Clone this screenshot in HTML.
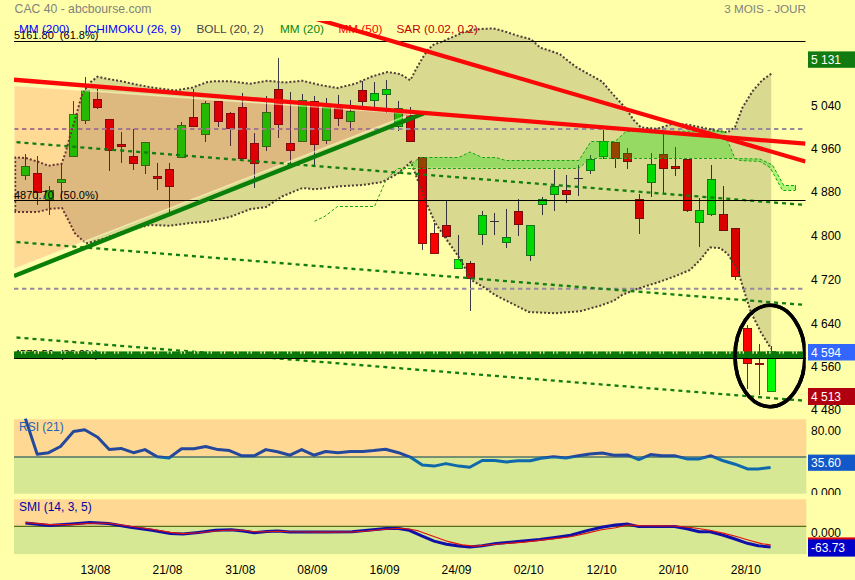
<!DOCTYPE html>
<html lang="fr"><head><meta charset="utf-8"><title>CAC 40 - abcbourse.com</title>
<style>html,body{margin:0;padding:0;background:#FFFFAA;}body{width:855px;height:580px;overflow:hidden;}svg{display:block;font-family:"Liberation Sans",sans-serif;font-size:12px;}</style></head><body>
<svg width="855" height="580" viewBox="0 0 855 580">
<defs>
<clipPath id="cm"><rect x="14" y="21" width="791.5" height="392"/></clipPath>
<clipPath id="cr"><rect x="806" y="419" width="49" height="76"/></clipPath>
</defs>
<rect width="855" height="580" fill="#FFFFAA"/>
<g clip-path="url(#cm)">
<g shape-rendering="crispEdges">
<line x1="25.5" y1="154.0" x2="25.5" y2="179.5" stroke="#3E3A48" stroke-width="1"/>
<rect x="21.5" y="166.5" width="8" height="9" fill="#00FF00" stroke="#1E8A1E" stroke-width="1"/>
<line x1="37.5" y1="156.0" x2="37.5" y2="204.5" stroke="#3E3A48" stroke-width="1"/>
<rect x="33.5" y="173.5" width="8" height="19" fill="#FF0000" stroke="#8A1010" stroke-width="1"/>
<line x1="49.5" y1="186.2" x2="49.5" y2="214.5" stroke="#3E3A48" stroke-width="1"/>
<rect x="45.5" y="190.5" width="8" height="9" fill="#00FF00" stroke="#1E8A1E" stroke-width="1"/>
<line x1="61.5" y1="163.8" x2="61.5" y2="200.0" stroke="#3E3A48" stroke-width="1"/>
<rect x="57.5" y="179.5" width="8" height="3" fill="#00FF00" stroke="#1E8A1E" stroke-width="1"/>
<line x1="73.5" y1="101.2" x2="73.5" y2="157.0" stroke="#3E3A48" stroke-width="1"/>
<rect x="69.5" y="114.5" width="8" height="42" fill="#00FF00" stroke="#1E8A1E" stroke-width="1"/>
<line x1="85.5" y1="77.0" x2="85.5" y2="123.8" stroke="#3E3A48" stroke-width="1"/>
<rect x="81.5" y="90.5" width="8" height="30" fill="#00FF00" stroke="#1E8A1E" stroke-width="1"/>
<line x1="97.5" y1="88.8" x2="97.5" y2="108.8" stroke="#3E3A48" stroke-width="1"/>
<rect x="93.5" y="99.5" width="8" height="8" fill="#FF0000" stroke="#8A1010" stroke-width="1"/>
<line x1="109.5" y1="119.2" x2="109.5" y2="171.2" stroke="#3E3A48" stroke-width="1"/>
<rect x="105.5" y="119.5" width="8" height="31" fill="#FF0000" stroke="#8A1010" stroke-width="1"/>
<line x1="121.5" y1="132.0" x2="121.5" y2="162.5" stroke="#3E3A48" stroke-width="1"/>
<rect x="117.5" y="144.5" width="8" height="2" fill="#FF0000" stroke="#8A1010" stroke-width="1"/>
<line x1="133.5" y1="128.8" x2="133.5" y2="170.2" stroke="#3E3A48" stroke-width="1"/>
<rect x="129.5" y="156.5" width="8" height="7" fill="#FF0000" stroke="#8A1010" stroke-width="1"/>
<line x1="145.5" y1="142.0" x2="145.5" y2="173.5" stroke="#3E3A48" stroke-width="1"/>
<rect x="141.5" y="142.5" width="8" height="23" fill="#00FF00" stroke="#1E8A1E" stroke-width="1"/>
<line x1="157.5" y1="163.0" x2="157.5" y2="189.5" stroke="#3E3A48" stroke-width="1"/>
<rect x="153.5" y="176.5" width="8" height="2" fill="#FF0000" stroke="#8A1010" stroke-width="1"/>
<line x1="169.5" y1="163.0" x2="169.5" y2="216.2" stroke="#3E3A48" stroke-width="1"/>
<rect x="165.5" y="169.5" width="8" height="17" fill="#FF0000" stroke="#8A1010" stroke-width="1"/>
<line x1="181.5" y1="122.0" x2="181.5" y2="157.5" stroke="#3E3A48" stroke-width="1"/>
<rect x="177.5" y="125.5" width="8" height="32" fill="#00FF00" stroke="#1E8A1E" stroke-width="1"/>
<line x1="193.5" y1="88.8" x2="193.5" y2="125.5" stroke="#3E3A48" stroke-width="1"/>
<rect x="189.5" y="117.5" width="8" height="9" fill="#FF0000" stroke="#8A1010" stroke-width="1"/>
<line x1="205.5" y1="101.2" x2="205.5" y2="142.0" stroke="#3E3A48" stroke-width="1"/>
<rect x="201.5" y="103.5" width="8" height="31" fill="#00FF00" stroke="#1E8A1E" stroke-width="1"/>
<line x1="218.5" y1="101.2" x2="218.5" y2="127.0" stroke="#3E3A48" stroke-width="1"/>
<rect x="214.5" y="101.5" width="8" height="20" fill="#FF0000" stroke="#8A1010" stroke-width="1"/>
<line x1="230.5" y1="112.0" x2="230.5" y2="145.5" stroke="#3E3A48" stroke-width="1"/>
<rect x="226.5" y="113.5" width="8" height="15" fill="#FF0000" stroke="#8A1010" stroke-width="1"/>
<line x1="242.5" y1="93.0" x2="242.5" y2="158.2" stroke="#3E3A48" stroke-width="1"/>
<rect x="238.5" y="107.5" width="8" height="51" fill="#FF0000" stroke="#8A1010" stroke-width="1"/>
<line x1="254.5" y1="133.0" x2="254.5" y2="187.5" stroke="#3E3A48" stroke-width="1"/>
<rect x="250.5" y="143.5" width="8" height="20" fill="#FF0000" stroke="#8A1010" stroke-width="1"/>
<line x1="266.5" y1="95.8" x2="266.5" y2="151.2" stroke="#3E3A48" stroke-width="1"/>
<rect x="262.5" y="112.5" width="8" height="34" fill="#00FF00" stroke="#1E8A1E" stroke-width="1"/>
<line x1="278.5" y1="58.0" x2="278.5" y2="138.2" stroke="#3E3A48" stroke-width="1"/>
<rect x="274.5" y="89.5" width="8" height="35" fill="#FF0000" stroke="#8A1010" stroke-width="1"/>
<line x1="290.5" y1="92.0" x2="290.5" y2="165.5" stroke="#3E3A48" stroke-width="1"/>
<rect x="286.5" y="143.5" width="8" height="7" fill="#FF0000" stroke="#8A1010" stroke-width="1"/>
<line x1="302.5" y1="93.8" x2="302.5" y2="141.2" stroke="#3E3A48" stroke-width="1"/>
<rect x="298.5" y="100.5" width="8" height="41" fill="#00FF00" stroke="#1E8A1E" stroke-width="1"/>
<line x1="314.5" y1="95.8" x2="314.5" y2="165.0" stroke="#3E3A48" stroke-width="1"/>
<rect x="310.5" y="101.5" width="8" height="43" fill="#FF0000" stroke="#8A1010" stroke-width="1"/>
<line x1="326.5" y1="97.5" x2="326.5" y2="143.8" stroke="#3E3A48" stroke-width="1"/>
<rect x="322.5" y="107.5" width="8" height="33" fill="#00FF00" stroke="#1E8A1E" stroke-width="1"/>
<line x1="338.5" y1="95.0" x2="338.5" y2="125.5" stroke="#3E3A48" stroke-width="1"/>
<rect x="334.5" y="108.5" width="8" height="10" fill="#FF0000" stroke="#8A1010" stroke-width="1"/>
<line x1="350.5" y1="100.0" x2="350.5" y2="130.5" stroke="#3E3A48" stroke-width="1"/>
<rect x="346.5" y="111.5" width="8" height="10" fill="#00FF00" stroke="#1E8A1E" stroke-width="1"/>
<line x1="362.5" y1="81.2" x2="362.5" y2="110.0" stroke="#3E3A48" stroke-width="1"/>
<rect x="358.5" y="90.5" width="8" height="11" fill="#FF0000" stroke="#8A1010" stroke-width="1"/>
<line x1="374.5" y1="82.0" x2="374.5" y2="107.5" stroke="#3E3A48" stroke-width="1"/>
<rect x="370.5" y="93.5" width="8" height="7" fill="#00FF00" stroke="#1E8A1E" stroke-width="1"/>
<line x1="386.5" y1="80.0" x2="386.5" y2="112.5" stroke="#3E3A48" stroke-width="1"/>
<rect x="382.5" y="89.5" width="8" height="5" fill="#00FF00" stroke="#1E8A1E" stroke-width="1"/>
<line x1="398.5" y1="101.2" x2="398.5" y2="131.2" stroke="#3E3A48" stroke-width="1"/>
<rect x="394.5" y="108.5" width="8" height="18" fill="#00FF00" stroke="#1E8A1E" stroke-width="1"/>
<line x1="410.5" y1="107.0" x2="410.5" y2="141.2" stroke="#3E3A48" stroke-width="1"/>
<rect x="406.5" y="115.5" width="8" height="26" fill="#FF0000" stroke="#8A1010" stroke-width="1"/>
<line x1="422.5" y1="157.0" x2="422.5" y2="249.5" stroke="#3E3A48" stroke-width="1"/>
<rect x="418.5" y="157.5" width="8" height="86" fill="#FF0000" stroke="#8A1010" stroke-width="1"/>
<line x1="434.5" y1="223.0" x2="434.5" y2="253.2" stroke="#3E3A48" stroke-width="1"/>
<rect x="430.5" y="233.5" width="8" height="20" fill="#FF0000" stroke="#8A1010" stroke-width="1"/>
<line x1="446.5" y1="200.8" x2="446.5" y2="237.5" stroke="#3E3A48" stroke-width="1"/>
<rect x="442.5" y="225.5" width="8" height="11" fill="#FF0000" stroke="#8A1010" stroke-width="1"/>
<line x1="458.5" y1="235.0" x2="458.5" y2="268.0" stroke="#3E3A48" stroke-width="1"/>
<rect x="454.5" y="259.5" width="8" height="9" fill="#00FF00" stroke="#1E8A1E" stroke-width="1"/>
<line x1="470.5" y1="260.8" x2="470.5" y2="310.5" stroke="#3E3A48" stroke-width="1"/>
<rect x="466.5" y="263.5" width="8" height="15" fill="#FF0000" stroke="#8A1010" stroke-width="1"/>
<line x1="482.5" y1="210.8" x2="482.5" y2="244.5" stroke="#3E3A48" stroke-width="1"/>
<rect x="478.5" y="215.5" width="8" height="19" fill="#00FF00" stroke="#1E8A1E" stroke-width="1"/>
<line x1="494.5" y1="213.0" x2="494.5" y2="234.5" stroke="#3E3A48" stroke-width="1"/>
<line x1="490" y1="221.5" x2="499" y2="221.5" stroke="#3E3A48" stroke-width="1"/>
<line x1="506.5" y1="208.8" x2="506.5" y2="247.5" stroke="#3E3A48" stroke-width="1"/>
<rect x="502.5" y="237.5" width="8" height="5" fill="#00FF00" stroke="#1E8A1E" stroke-width="1"/>
<line x1="518.5" y1="198.8" x2="518.5" y2="235.5" stroke="#3E3A48" stroke-width="1"/>
<rect x="514.5" y="211.5" width="8" height="13" fill="#FF0000" stroke="#8A1010" stroke-width="1"/>
<line x1="530.5" y1="225.0" x2="530.5" y2="261.2" stroke="#3E3A48" stroke-width="1"/>
<rect x="526.5" y="225.5" width="8" height="30" fill="#00FF00" stroke="#1E8A1E" stroke-width="1"/>
<line x1="542.5" y1="197.0" x2="542.5" y2="214.5" stroke="#3E3A48" stroke-width="1"/>
<rect x="538.5" y="199.5" width="8" height="5" fill="#00FF00" stroke="#1E8A1E" stroke-width="1"/>
<line x1="554.5" y1="170.0" x2="554.5" y2="210.5" stroke="#3E3A48" stroke-width="1"/>
<rect x="550.5" y="186.5" width="8" height="8" fill="#00FF00" stroke="#1E8A1E" stroke-width="1"/>
<line x1="566.5" y1="174.5" x2="566.5" y2="202.5" stroke="#3E3A48" stroke-width="1"/>
<rect x="562.5" y="190.5" width="8" height="4" fill="#FF0000" stroke="#8A1010" stroke-width="1"/>
<line x1="578.5" y1="164.5" x2="578.5" y2="195.8" stroke="#3E3A48" stroke-width="1"/>
<line x1="574" y1="178.5" x2="583" y2="178.5" stroke="#3E3A48" stroke-width="1"/>
<line x1="590.5" y1="154.5" x2="590.5" y2="173.8" stroke="#3E3A48" stroke-width="1"/>
<rect x="586.5" y="159.5" width="8" height="11" fill="#00FF00" stroke="#1E8A1E" stroke-width="1"/>
<line x1="603.5" y1="130.0" x2="603.5" y2="159.2" stroke="#3E3A48" stroke-width="1"/>
<rect x="599.5" y="141.5" width="8" height="15" fill="#00FF00" stroke="#1E8A1E" stroke-width="1"/>
<line x1="615.5" y1="142.0" x2="615.5" y2="167.5" stroke="#3E3A48" stroke-width="1"/>
<rect x="611.5" y="142.5" width="8" height="16" fill="#FF0000" stroke="#8A1010" stroke-width="1"/>
<line x1="627.5" y1="147.5" x2="627.5" y2="168.8" stroke="#3E3A48" stroke-width="1"/>
<rect x="623.5" y="153.5" width="8" height="8" fill="#FF0000" stroke="#8A1010" stroke-width="1"/>
<line x1="639.5" y1="193.8" x2="639.5" y2="233.8" stroke="#3E3A48" stroke-width="1"/>
<rect x="635.5" y="199.5" width="8" height="19" fill="#FF0000" stroke="#8A1010" stroke-width="1"/>
<line x1="651.5" y1="153.0" x2="651.5" y2="197.0" stroke="#3E3A48" stroke-width="1"/>
<rect x="647.5" y="164.5" width="8" height="18" fill="#00FF00" stroke="#1E8A1E" stroke-width="1"/>
<line x1="663.5" y1="129.5" x2="663.5" y2="193.8" stroke="#3E3A48" stroke-width="1"/>
<rect x="659.5" y="154.5" width="8" height="14" fill="#FF0000" stroke="#8A1010" stroke-width="1"/>
<line x1="675.5" y1="147.0" x2="675.5" y2="175.8" stroke="#3E3A48" stroke-width="1"/>
<rect x="671.5" y="166.5" width="8" height="2" fill="#FF0000" stroke="#8A1010" stroke-width="1"/>
<line x1="687.5" y1="158.8" x2="687.5" y2="211.8" stroke="#3E3A48" stroke-width="1"/>
<rect x="683.5" y="159.5" width="8" height="51" fill="#FF0000" stroke="#8A1010" stroke-width="1"/>
<line x1="699.5" y1="197.5" x2="699.5" y2="246.8" stroke="#3E3A48" stroke-width="1"/>
<rect x="695.5" y="210.5" width="8" height="12" fill="#00FF00" stroke="#1E8A1E" stroke-width="1"/>
<line x1="711.5" y1="165.0" x2="711.5" y2="215.5" stroke="#3E3A48" stroke-width="1"/>
<rect x="707.5" y="179.5" width="8" height="35" fill="#00FF00" stroke="#1E8A1E" stroke-width="1"/>
<line x1="723.5" y1="185.8" x2="723.5" y2="230.5" stroke="#3E3A48" stroke-width="1"/>
<rect x="719.5" y="214.5" width="8" height="16" fill="#FF0000" stroke="#8A1010" stroke-width="1"/>
<line x1="735.5" y1="228.0" x2="735.5" y2="279.5" stroke="#3E3A48" stroke-width="1"/>
<rect x="731.5" y="228.5" width="8" height="48" fill="#FF0000" stroke="#8A1010" stroke-width="1"/>
<line x1="747.5" y1="325.0" x2="747.5" y2="389.2" stroke="#3E3A48" stroke-width="1"/>
<rect x="743.5" y="328.5" width="8" height="35" fill="#FF0000" stroke="#8A1010" stroke-width="1"/>
<line x1="759.5" y1="343.8" x2="759.5" y2="394.5" stroke="#3E3A48" stroke-width="1"/>
<rect x="755.5" y="363.5" width="8" height="1" fill="#FF0000" stroke="#8A1010" stroke-width="1"/>
<line x1="771.5" y1="345.5" x2="771.5" y2="391.2" stroke="#3E3A48" stroke-width="1"/>
<rect x="767.5" y="351.5" width="8" height="40" fill="#00FF00" stroke="#1E8A1E" stroke-width="1"/>
</g>
<polygon points="14.00,157.40 25.70,158.00 37.50,161.50 48.50,165.70 61.50,163.80 65.40,153.00 70.10,135.80 75.80,116.90 81.50,96.00 84.40,90.30 91.00,81.80 97.60,76.70 106.20,78.60 121.30,81.20 136.50,84.60 155.00,88.00 175.00,90.50 192.50,87.50 207.50,82.00 215.00,81.25 230.00,81.25 250.00,83.75 267.50,80.75 285.00,82.50 302.50,80.75 320.00,85.00 337.50,88.00 355.00,83.75 372.50,76.25 387.50,72.00 400.00,74.00 410.30,80.20 416.00,69.30 422.50,58.00 428.00,49.60 433.70,44.60 443.00,41.20 452.40,37.10 463.70,32.20 475.00,29.60 484.30,28.70 493.60,28.50 504.90,31.50 516.00,35.20 531.00,39.30 540.50,47.80 549.80,50.60 560.00,54.30 575.00,66.25 592.50,76.25 602.00,81.50 612.50,93.75 625.00,107.50 633.75,120.00 641.00,127.50 657.50,128.75 672.50,123.75 687.50,124.50 707.50,128.75 720.00,131.25 727.50,132.50 735.00,127.00 742.50,107.50 752.50,91.25 762.50,80.00 771.25,73.75 771.25,349.00 761.00,332.50 751.00,312.50 745.00,293.75 740.00,277.50 735.00,265.00 727.50,253.75 720.00,248.00 710.00,247.50 700.00,260.00 690.00,270.00 675.00,276.25 657.50,282.50 637.50,288.75 622.50,294.75 613.75,300.75 600.00,305.75 580.00,311.25 555.00,313.25 528.75,312.00 512.50,303.75 495.00,295.00 485.00,288.00 473.00,281.00 469.00,275.00 457.50,255.00 446.00,238.75 435.00,222.50 425.00,200.00 411.00,162.00 397.50,173.75 382.50,182.00 362.50,185.00 340.00,186.25 315.00,189.25 302.50,188.00 282.50,196.25 266.00,207.00 250.00,209.25 230.00,217.00 207.00,221.70 190.00,223.00 170.00,225.75 150.00,225.00 125.00,231.00 100.00,240.00 86.00,243.50 75.00,233.50 67.50,218.50 62.00,208.00 50.00,208.75 37.50,212.00 14.00,212.00" fill="#000" fill-opacity="0.15"/>
<line x1="14" y1="128.9" x2="803" y2="128.9" stroke="#958A9C" stroke-width="2" stroke-dasharray="4.4 3.6"/>
<line x1="14" y1="288.8" x2="803" y2="288.8" stroke="#958A9C" stroke-width="2" stroke-dasharray="4.4 3.6"/>
<polyline points="14.00,157.40 25.70,158.00 37.50,161.50 48.50,165.70 61.50,163.80 65.40,153.00 70.10,135.80 75.80,116.90 81.50,96.00 84.40,90.30 91.00,81.80 97.60,76.70 106.20,78.60 121.30,81.20 136.50,84.60 155.00,88.00 175.00,90.50 192.50,87.50 207.50,82.00 215.00,81.25 230.00,81.25 250.00,83.75 267.50,80.75 285.00,82.50 302.50,80.75 320.00,85.00 337.50,88.00 355.00,83.75 372.50,76.25 387.50,72.00 400.00,74.00 410.30,80.20 416.00,69.30 422.50,58.00 428.00,49.60 433.70,44.60 443.00,41.20 452.40,37.10 463.70,32.20 475.00,29.60 484.30,28.70 493.60,28.50 504.90,31.50 516.00,35.20 531.00,39.30 540.50,47.80 549.80,50.60 560.00,54.30 575.00,66.25 592.50,76.25 602.00,81.50 612.50,93.75 625.00,107.50 633.75,120.00 641.00,127.50 657.50,128.75 672.50,123.75 687.50,124.50 707.50,128.75 720.00,131.25 727.50,132.50 735.00,127.00 742.50,107.50 752.50,91.25 762.50,80.00 771.25,73.75" fill="none" stroke="#4F3C36" stroke-width="2" stroke-dasharray="2 2"/>
<polyline points="14.00,212.00 37.50,212.00 50.00,208.75 62.00,208.00 67.50,218.50 75.00,233.50 86.00,243.50 100.00,240.00 125.00,231.00 150.00,225.00 170.00,225.75 190.00,223.00 207.00,221.70 230.00,217.00 250.00,209.25 266.00,207.00 282.50,196.25 302.50,188.00 315.00,189.25 340.00,186.25 362.50,185.00 382.50,182.00 397.50,173.75 411.00,162.00 425.00,200.00 435.00,222.50 446.00,238.75 457.50,255.00 469.00,275.00 473.00,281.00 485.00,288.00 495.00,295.00 512.50,303.75 528.75,312.00 555.00,313.25 580.00,311.25 600.00,305.75 613.75,300.75 622.50,294.75 637.50,288.75 657.50,282.50 675.00,276.25 690.00,270.00 700.00,260.00 710.00,247.50 720.00,248.00 727.50,253.75 735.00,265.00 740.00,277.50 745.00,293.75 751.00,312.50 761.00,332.50 771.25,349.00" fill="none" stroke="#4F3C36" stroke-width="2" stroke-dasharray="2 2"/>
<line x1="15.2" y1="157" x2="15.2" y2="212" stroke="#4F3C36" stroke-width="2" stroke-dasharray="2 2"/>
<polygon points="408.00,167.50 412.50,163.00 420.00,157.50 458.75,157.50 470.00,152.00 482.50,157.50 496.00,157.50 506.00,160.50 578.75,160.50 591.00,141.50 615.00,141.50 626.00,131.50 722.00,131.00 724.00,132.00 735.00,158.50 760.00,159.00 772.50,165.00 783.75,185.50 795.50,185.50 795.50,190.00 782.50,190.00 770.00,167.50 760.00,161.25 740.00,160.50 735.00,158.00 590.00,158.00 578.75,168.00" fill="#00DC00" fill-opacity="0.31"/>
<polyline points="395.00,175.00 400.00,172.00 412.50,163.00 420.00,157.50 458.75,157.50 470.00,152.00 482.50,157.50 496.00,157.50 506.00,160.50 578.75,160.50 591.00,141.50 615.00,141.50 626.00,131.50 722.00,131.00 724.00,132.00 735.00,158.50 760.00,159.00 772.50,165.00 783.75,185.50 795.50,185.50" fill="none" stroke="#14A514" stroke-width="1" stroke-dasharray="3 2"/>
<polyline points="314.50,221.25 325.00,216.25 337.50,206.50 374.50,206.50 386.00,180.00 397.50,168.50 578.75,168.50 590.00,158.50 735.00,158.50 740.00,160.50 760.00,161.50 770.00,167.50 782.50,190.50 795.50,190.50" fill="none" stroke="#14A514" stroke-width="1" stroke-dasharray="3 2"/>
<line x1="795.5" y1="185" x2="795.5" y2="190" stroke="#18A018" stroke-width="1"/>
<polygon points="14.00,85.50 412.00,113.80 14.00,269.10" fill="#FF001E" fill-opacity="0.145"/>
<polygon points="14.00,85.50 412.00,113.80 14.00,269.10" fill="none" stroke="#FFFFC8" stroke-opacity="0.55" stroke-width="1.6" stroke-linejoin="round"/>
<line x1="16.5" y1="142.2" x2="805.5" y2="205" stroke="#137C13" stroke-width="2.3" stroke-dasharray="4 4"/>
<line x1="16.5" y1="242.0" x2="805.5" y2="305" stroke="#137C13" stroke-width="2.3" stroke-dasharray="4 4"/>
<line x1="16.5" y1="337.5" x2="805.5" y2="400.8" stroke="#137C13" stroke-width="2.3" stroke-dasharray="4 4"/>
<line x1="14" y1="41.5" x2="805.5" y2="41.5" stroke="#000" stroke-width="1" shape-rendering="crispEdges"/>
<line x1="14" y1="200.5" x2="805.5" y2="200.5" stroke="#000" stroke-width="1" shape-rendering="crispEdges"/>
<line x1="14" y1="358.5" x2="805.5" y2="358.5" stroke="#000" stroke-width="1" shape-rendering="crispEdges"/>
<line x1="14" y1="276" x2="424" y2="113.2" stroke="#0A800A" stroke-width="4.4"/>
<line x1="14" y1="79.75" x2="805.5" y2="143.7" stroke="#FA0808" stroke-width="4.3"/>
<line x1="300" y1="14.25" x2="805.5" y2="161.6" stroke="#FA0808" stroke-width="4.2"/>
<ellipse cx="770" cy="356" rx="35" ry="50.7" fill="none" stroke="#000" stroke-width="3.6"/>
</g>
<text x="14" y="39.2" font-size="11" fill="#000">5161.80 &#160;(61.8%)</text>
<text x="14" y="198.5" font-size="11" fill="#000">4870.70 &#160;(50.0%)</text>
<text x="14" y="357.6" font-size="11" fill="#000">4579.59 &#160;(38.2%)</text>
<rect x="14" y="351.4" width="791.5" height="6.7" fill="#0A770A"/>
<line x1="21" y1="352.5" x2="805.5" y2="352.5" stroke="#FFFFAA" stroke-width="2.4" stroke-dasharray="1.2 2.3 1.2 8.6"/>
<line x1="14" y1="358.5" x2="805.5" y2="358.5" stroke="#000" stroke-width="1" shape-rendering="crispEdges"/>
<g clip-path="url(#cm)"><ellipse cx="770" cy="356" rx="35" ry="50.7" fill="none" stroke="#000" stroke-width="3.6"/></g>
<text x="14.6" y="13" font-size="12.2" fill="#82827C">CAC 40 - abcbourse.com</text>
<text x="806" y="13" font-size="11.7" fill="#82827C" text-anchor="end">3 MOIS - JOUR</text>
<text x="19" y="32.8" font-size="11.8" fill="#0000FF">MM (200)</text>
<text x="84.5" y="32.8" font-size="11.8" fill="#0000FF">ICHIMOKU (26, 9)</text>
<text x="196.5" y="32.8" font-size="11.8" fill="#444444">BOLL (20, 2)</text>
<text x="280" y="32.8" font-size="11.8" fill="#0A860A">MM (20)</text>
<text x="338.5" y="32.8" font-size="11.8" fill="#FF0000">MM (50)</text>
<text x="396.5" y="32.8" font-size="11.8" fill="#C00000">SAR (0.02, 0.2)</text>
<text x="811" y="109.9" fill="#000">5 040</text>
<text x="811" y="153.4" fill="#000">4 960</text>
<text x="811" y="196.4" fill="#000">4 880</text>
<text x="811" y="240.1" fill="#000">4 800</text>
<text x="811" y="284.4" fill="#000">4 720</text>
<text x="811" y="328.09999999999997" fill="#000">4 640</text>
<text x="811" y="370.9" fill="#000">4 560</text>
<text x="811" y="414.4" fill="#000">4 480</text>
<rect x="808" y="51.4" width="47" height="16.4" fill="#117A11"/>
<text x="811" y="63.99999999999999" fill="#fff">5 131</text>
<rect x="808" y="344" width="47" height="16.5" fill="#3366FF"/>
<text x="811" y="356.65" fill="#fff">4 594</text>
<rect x="808" y="388" width="47" height="17" fill="#B00010"/>
<text x="811" y="400.9" fill="#fff">4 513</text>
<rect x="14" y="419.3" width="792.3" height="37.7" fill="#FFD993"/>
<rect x="14" y="457" width="792.3" height="36.7" fill="#D6E893"/>
<line x1="14" y1="457" x2="806.3" y2="457" stroke="#4F7468" stroke-width="1.3"/>
<clipPath id="ra"><rect x="0" y="410" width="855" height="47"/></clipPath><clipPath id="rb"><rect x="0" y="457" width="855" height="40"/></clipPath>
<polyline clip-path="url(#ra)" points="25.40,418.60 37.20,454.30 48.70,452.70 60.50,446.50 73.50,431.60 84.70,429.80 97.70,437.20 109.20,449.60 121.00,448.40 133.40,452.70 144.90,449.60 157.30,456.80 169.00,458.00 181.50,448.70 193.90,448.70 205.60,446.50 218.00,449.60 229.50,450.60 241.90,455.80 254.30,455.80 265.80,449.60 277.50,451.80 290.00,455.20 301.70,449.60 313.80,455.20 325.60,451.50 338.00,452.70 350.40,451.50 362.80,451.50 373.70,450.60 385.50,449.30 398.50,452.70 410.90,457.40 422.30,465.10 434.10,466.10 445.90,463.60 458.90,466.10 469.80,467.30 482.20,460.50 494.60,460.50 506.40,462.00 517.90,460.80 530.30,460.80 541.10,458.30 553.50,456.80 565.90,458.00 578.30,455.80 589.80,454.00 602.20,453.00 614.00,455.20 627.30,454.90 638.80,459.60 650.60,454.60 662.00,455.80 674.50,455.80 686.90,458.90 699.30,458.90 711.00,455.80 722.50,460.50 735.00,464.20 747.40,468.90 758.20,468.90 770.60,467.60" fill="none" stroke="#24499C" stroke-width="3" stroke-linejoin="round"/>
<polyline clip-path="url(#rb)" points="25.40,418.60 37.20,454.30 48.70,452.70 60.50,446.50 73.50,431.60 84.70,429.80 97.70,437.20 109.20,449.60 121.00,448.40 133.40,452.70 144.90,449.60 157.30,456.80 169.00,458.00 181.50,448.70 193.90,448.70 205.60,446.50 218.00,449.60 229.50,450.60 241.90,455.80 254.30,455.80 265.80,449.60 277.50,451.80 290.00,455.20 301.70,449.60 313.80,455.20 325.60,451.50 338.00,452.70 350.40,451.50 362.80,451.50 373.70,450.60 385.50,449.30 398.50,452.70 410.90,457.40 422.30,465.10 434.10,466.10 445.90,463.60 458.90,466.10 469.80,467.30 482.20,460.50 494.60,460.50 506.40,462.00 517.90,460.80 530.30,460.80 541.10,458.30 553.50,456.80 565.90,458.00 578.30,455.80 589.80,454.00 602.20,453.00 614.00,455.20 627.30,454.90 638.80,459.60 650.60,454.60 662.00,455.80 674.50,455.80 686.90,458.90 699.30,458.90 711.00,455.80 722.50,460.50 735.00,464.20 747.40,468.90 758.20,468.90 770.60,467.60" fill="none" stroke="#0F68AC" stroke-width="3" stroke-linejoin="round"/>
<text x="19" y="431" fill="#1F63B5">RSI (21)</text>
<text x="811" y="434.6" fill="#000">80.00</text>
<g clip-path="url(#cr)"><text x="811" y="496.5" fill="#000">0.000</text></g>
<rect x="808" y="454.6" width="47" height="16.2" fill="#1258C8"/>
<text x="811" y="467.1" fill="#fff">35.60</text>
<rect x="14" y="499.3" width="792.3" height="27" fill="#FFD993"/>
<rect x="14" y="526.3" width="792.3" height="27.8" fill="#D6E893"/>
<line x1="14" y1="526.3" x2="806.3" y2="526.3" stroke="#55701A" stroke-width="1.2"/>
<polyline points="25.40,523.10 49.60,525.60 71.30,524.10 90.00,522.50 108.60,523.40 130.30,527.20 152.00,530.30 170.60,533.40 183.00,534.00 198.50,532.40 215.50,530.30 231.00,529.70 243.40,530.90 254.30,532.80 266.70,531.50 277.50,530.90 290.00,532.10 324.00,532.10 352.00,531.80 367.50,530.30 386.00,528.40 398.50,528.40 409.30,530.30 421.70,535.90 434.10,541.10 446.50,544.20 458.90,546.10 469.80,547.00 482.20,545.80 496.20,543.60 517.90,541.40 539.60,539.60 555.10,537.40 570.60,535.20 586.10,530.90 601.60,527.20 615.50,525.00 628.00,524.10 638.80,526.60 674.50,526.60 686.90,528.70 699.30,531.80 710.00,531.80 722.50,535.00 735.00,539.00 747.40,543.30 758.20,545.80 770.60,547.00" fill="none" stroke="#1010A8" stroke-width="3" stroke-linejoin="round"/>
<polyline points="25.40,522.50 49.60,524.60 71.30,524.60 90.00,523.20 108.60,523.20 130.30,526.20 152.00,529.20 170.60,532.40 183.00,533.60 198.50,532.80 215.50,531.00 231.00,530.00 243.40,530.20 254.30,531.80 266.70,531.80 277.50,531.20 290.00,531.80 324.00,532.10 352.00,532.00 367.50,531.00 386.00,529.20 398.50,528.20 409.30,529.00 418.60,530.90 431.00,535.50 446.50,541.10 462.00,544.90 474.40,546.10 493.00,544.50 524.00,542.10 555.00,538.60 570.60,536.80 586.00,533.40 601.60,529.70 615.50,527.80 628.00,525.00 640.30,525.60 674.50,526.00 693.00,527.80 710.00,530.30 724.00,533.40 736.50,536.50 749.00,540.20 761.30,543.60 770.60,544.90" fill="none" stroke="#E01010" stroke-width="1.1" stroke-linejoin="round"/>
<text x="19" y="511" fill="#0000A8">SMI (14, 3, 5)</text>
<text x="811" y="537.2" fill="#000">0.000</text>
<rect x="808" y="537.4" width="47" height="10" fill="#E00010"/>
<rect x="808" y="539.4" width="47" height="17.2" fill="#0000C8"/>
<text x="811" y="552.4" fill="#fff">-63.73</text>
<text x="95.5" y="573.7" fill="#000" text-anchor="middle">13/08</text>
<text x="167.5" y="573.7" fill="#000" text-anchor="middle">21/08</text>
<text x="240.3" y="573.7" fill="#000" text-anchor="middle">31/08</text>
<text x="312.3" y="573.7" fill="#000" text-anchor="middle">08/09</text>
<text x="384.6" y="573.7" fill="#000" text-anchor="middle">16/09</text>
<text x="456.5" y="573.7" fill="#000" text-anchor="middle">24/09</text>
<text x="528.7" y="573.7" fill="#000" text-anchor="middle">02/10</text>
<text x="601.6" y="573.7" fill="#000" text-anchor="middle">12/10</text>
<text x="673.5" y="573.7" fill="#000" text-anchor="middle">20/10</text>
<text x="745.8" y="573.7" fill="#000" text-anchor="middle">28/10</text>
</svg></body></html>
